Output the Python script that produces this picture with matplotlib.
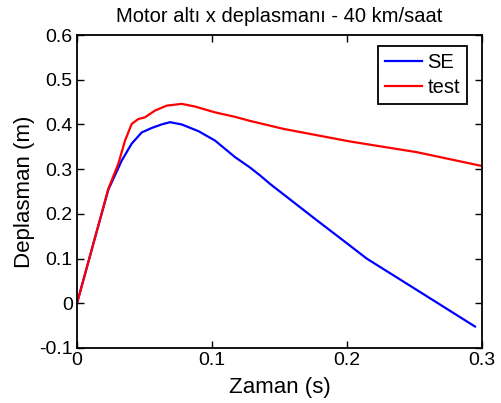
import matplotlib
matplotlib.use("Agg")
import matplotlib.pyplot as plt

plt.rcParams['font.family'] = ['Liberation Sans', 'DejaVu Sans']

t_se = [0.0, 0.013, 0.0232, 0.0331, 0.0405, 0.0479, 0.0553, 0.0627, 0.0689, 0.0775,
        0.0899, 0.1022, 0.117, 0.128, 0.1356, 0.143, 0.1775, 0.2, 0.2146, 0.2516, 0.2948]
v_se = [0.0, 0.143, 0.254, 0.319, 0.357, 0.382, 0.392, 0.400, 0.405, 0.400,
        0.385, 0.364, 0.327, 0.304, 0.286, 0.267, 0.186, 0.134, 0.100, 0.030, -0.052]

t_test = [0.0, 0.013, 0.0232, 0.0306, 0.0356, 0.0405, 0.0454, 0.0504, 0.0578, 0.0664,
          0.0775, 0.0874, 0.1022, 0.117, 0.128, 0.153, 0.202, 0.2516, 0.2985, 0.3]
v_test = [0.0, 0.143, 0.256, 0.312, 0.364, 0.401, 0.412, 0.416, 0.431, 0.442,
          0.446, 0.440, 0.427, 0.417, 0.408, 0.390, 0.362, 0.338, 0.308, 0.307]

xticks = [0, 0.1, 0.2, 0.3]
xticklabels = ['0', '0.1', '0.2', '0.3']
yticks = [-0.1, 0, 0.1, 0.2, 0.3, 0.4, 0.5, 0.6]
yticklabels = ['-0.1', '0', '0.1', '0.2', '0.3', '0.4', '0.5', '0.6']

fig = plt.figure(figsize=(5.01, 4.03), dpi=100)
ax = fig.add_axes([77/501, 1-348/403, (482-77)/501, (348-35)/403])
ax.plot(t_se, v_se, color='#0000ff', lw=1.6, label='SE')
ax.plot(t_test, v_test, color='#ff0000', lw=1.6, label='test')
ax.set_xlim(0, 0.3)
ax.set_ylim(-0.1, 0.6)
ax.set_xticks(xticks)
ax.set_xticklabels(xticklabels)
ax.set_yticks(yticks)
ax.set_yticklabels(yticklabels)
ax.tick_params(direction='in', top=True, right=True, length=5, width=1, labelsize=14, pad=3)
for s in ax.spines.values():
    s.set_linewidth(1.3)
ax.set_title('Motor altı x deplasmanı - 40 km/saat', fontsize=14.5, pad=9)
ax.set_xlabel('Zaman (s)', fontsize=16, labelpad=6)
ax.set_ylabel('Deplasman (m)', fontsize=16, labelpad=3)
leg = ax.legend(loc='upper right', bbox_to_anchor=((467-77)/405, (348-46)/313),
                borderaxespad=0, fontsize=14.5, frameon=True, fancybox=False,
                edgecolor='black', framealpha=1, handlelength=1.85,
                handletextpad=0.25, labelspacing=0.3, borderpad=0.35)
leg.get_frame().set_linewidth(1.3)
fig.savefig('out.png', dpi=100)
